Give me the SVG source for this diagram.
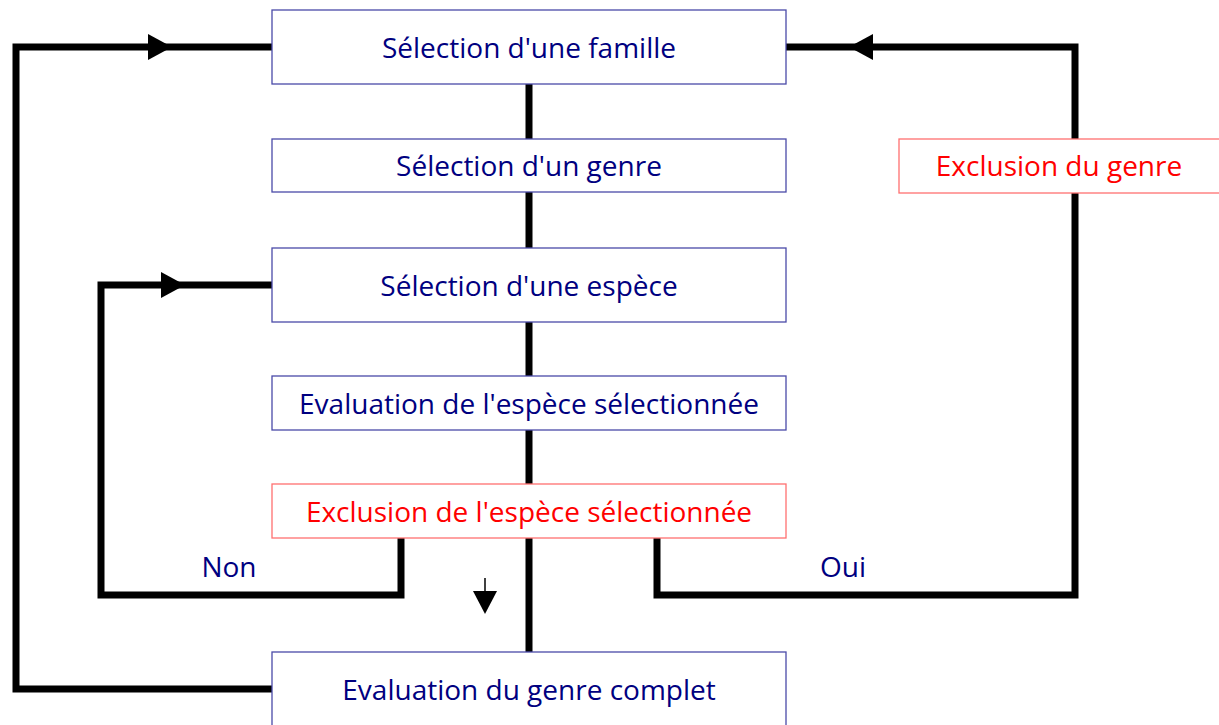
<svg xmlns="http://www.w3.org/2000/svg" width="1219" height="725" viewBox="0 0 1219 725">
<style>
.box{fill:#fff;stroke:#4a4aa8;stroke-width:1.3}
.rbox{fill:#fff;stroke:#ff7070;stroke-width:1.3}
.t{font-family:"Open Sans","Noto Sans",sans-serif;font-size:28px;fill:#000080;text-anchor:middle}
.r{fill:#ff0000}
.c{fill:none;stroke:#000;stroke-width:7;stroke-linejoin:miter;stroke-linecap:butt}
.ah{fill:#000}
</style>
<rect width="1219" height="725" fill="#fff"/>
<g id="connectors">
<path class="c" d="M529 84 V652"/>
<path class="c" d="M272 689 H16 V47 H272"/>
<path class="c" d="M401 538 V595 H101 V285 H272"/>
<path class="c" d="M657 538 V595 H1075 V47 H786"/>
<polygon class="ah" points="148,34 148,60 172,47"/>
<polygon class="ah" points="161,272 161,298 185,285"/>
<polygon class="ah" points="873,34 873,60 849,47"/>
<line x1="485" y1="578" x2="485" y2="592" stroke="#000" stroke-width="1.5"/>
<polygon class="ah" points="473,591 497,591 485,614"/>
</g>
<g id="n1"><rect class="box" x="272" y="10" width="514" height="74"/><text class="t" x="529" y="58">Sélection d'une famille</text></g>
<g id="n2"><rect class="box" x="272" y="139" width="514" height="53"/><text class="t" x="529" y="176">Sélection d'un genre</text></g>
<g id="n3"><rect class="box" x="272" y="248" width="514" height="74"/><text class="t" x="529" y="296">Sélection d'une espèce</text></g>
<g id="n4"><rect class="box" x="272" y="376" width="514" height="54"/><text class="t" x="529" y="414">Evaluation de l'espèce sélectionnée</text></g>
<g id="n5"><rect class="rbox" x="272" y="484" width="514" height="54"/><text class="t r" x="529" y="522">Exclusion de l'espèce sélectionnée</text></g>
<g id="n6"><rect class="box" x="272" y="652" width="514" height="80"/><text class="t" x="529" y="700">Evaluation du genre complet</text></g>
<g id="n7"><rect class="rbox" x="899" y="139" width="330" height="54"/><text class="t r" x="1059" y="176">Exclusion du genre</text></g>
<g id="labels"><text class="t" x="229" y="577">Non</text><text class="t" x="843" y="577">Oui</text></g>
</svg>
